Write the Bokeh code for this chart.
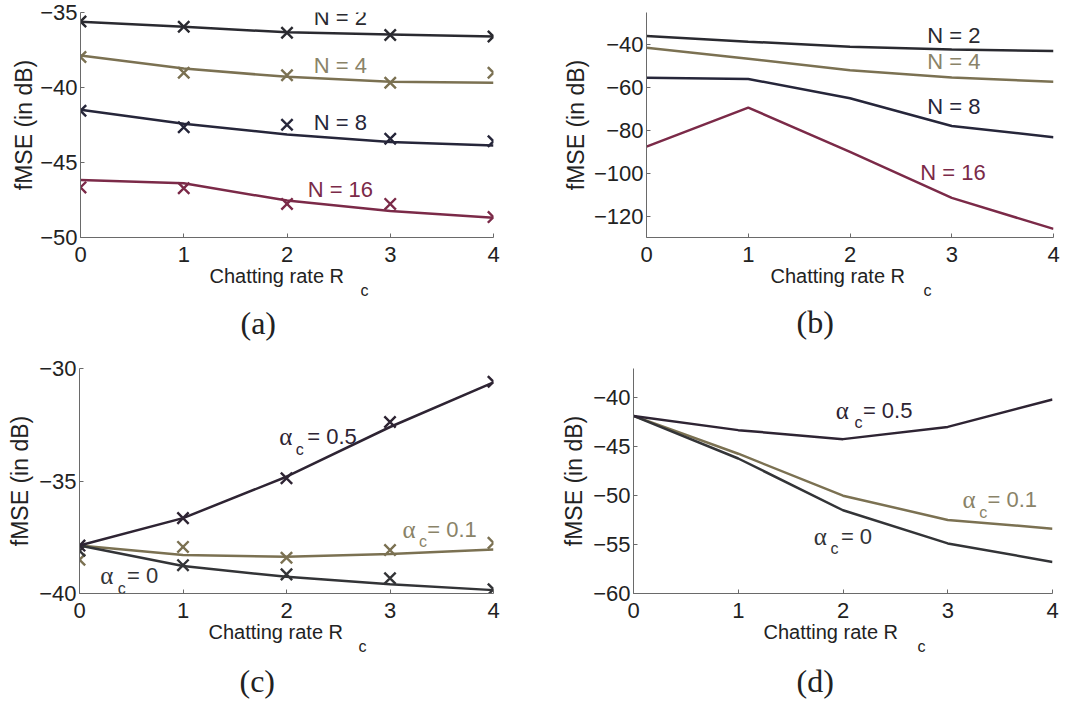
import math
from bokeh.plotting import figure
from bokeh.models import Range1d, FixedTicker, Label, Title
from bokeh.layouts import column, row
from bokeh.embed import file_html
from bokeh.resources import INLINE

# ---------------- data ----------------
rates = [0, 1, 2, 3, 4]

# (a) fMSE vs chatting rate, analytic curve (line) and simulation (x markers)
a_n2_line = [-35.62, -35.95, -36.32, -36.47, -36.60]
a_n2_mark = [-35.60, -35.95, -36.35, -36.50, -36.60]
a_n4_line = [-37.86, -38.74, -39.29, -39.62, -39.68]
a_n4_mark = [-37.97, -39.02, -39.18, -39.68, -39.02]
a_n8_line = [-41.49, -42.41, -43.14, -43.64, -43.86]
a_n8_mark = [-41.55, -42.65, -42.48, -43.42, -43.58]
a_n16_line = [-46.17, -46.39, -47.54, -48.24, -48.68]
a_n16_mark = [-46.66, -46.72, -47.76, -47.76, -48.64]

# (b)
b_n2 = [-36.0, -38.6, -41.0, -42.3, -43.0]
b_n4 = [-41.5, -46.6, -52.0, -55.3, -57.3]
b_n8 = [-55.5, -56.0, -65.0, -78.0, -83.2]
b_n16 = [-87.6, -69.4, -90.0, -111.5, -126.0]

# (c)
c_a05_line = [-37.87, -36.65, -34.81, -32.60, -30.62]
c_a05_mark = [-37.87, -36.65, -34.88, -32.38, -30.59]
c_a01_line = [-37.87, -38.29, -38.37, -38.24, -38.04]
c_a01_mark = [-38.50, -37.93, -38.41, -38.07, -37.75]
c_a0_line = [-37.87, -38.78, -39.26, -39.59, -39.85]
c_a0_mark = [-38.10, -38.74, -39.15, -39.32, -39.81]

# (d)
d_a05 = [-41.85, -43.30, -44.22, -42.97, -40.17]
d_a01 = [-41.85, -45.71, -50.00, -52.48, -53.37]
d_a0 = [-41.85, -46.20, -51.49, -54.88, -56.77]

x_ticks = [0, 1, 2, 3, 4]
a_yticks = [-50, -45, -40, -35]
b_yticks = [-120, -100, -80, -60, -40]
c_yticks = [-40, -35, -30]
d_yticks = [-60, -55, -50, -45, -40]

# ---------------- styles ----------------
C_DARK = "#2a2a30"
C_OLIVE = "#7b7152"
C_OLIVE_TXT = "#8a8368"
C_NAVY = "#26263a"
C_MAROON = "#7b2a48"
C_PURPLE = "#2e2433"
C_GRAY = "#333437"
SANS = "Liberation Sans"
SERIF = "Liberation Serif"
MINUS = "\u2212"


def fmt(v):
    return (MINUS + str(abs(v))) if v < 0 else str(v)


def make_panel(w, h, left, right, top, bottom, yr, yticks, ylab_standoff):
    p = figure(width=w, height=h, output_backend="svg", toolbar_location=None,
               x_range=Range1d(0, 4), y_range=Range1d(*yr),
               min_border_left=left, min_border_right=w - right,
               min_border_top=top, min_border_bottom=h - bottom)
    p.outline_line_color = None
    p.grid.visible = False
    p.background_fill_color = "white"
    p.border_fill_color = "white"
    for ax, ticks in ((p.xaxis, x_ticks), (p.yaxis, yticks)):
        ax.ticker = FixedTicker(ticks=ticks)
        ax.major_label_overrides = {t: fmt(t) for t in ticks}
        ax.axis_line_color = "#6a6a6a"
        ax.axis_line_width = 1
        ax.major_tick_line_color = "#6a6a6a"
        ax.major_tick_in = 4
        ax.major_tick_out = 0
        ax.minor_tick_line_color = None
        ax.major_label_text_font = SANS
        ax.major_label_text_font_size = "22px"
        ax.major_label_text_color = "#222222"
    p.xaxis.major_label_standoff = 9
    p.yaxis.major_label_standoff = 3
    p.yaxis.axis_label = "fMSE (in dB)"
    p.yaxis.axis_label_text_font = SANS
    p.yaxis.axis_label_text_font_size = "23px"
    p.yaxis.axis_label_text_font_style = "normal"
    p.yaxis.axis_label_text_color = "#222222"
    p.yaxis.axis_label_standoff = ylab_standoff
    p.tags = [left]
    return p


def below_text(p, s, x_px, size, font=SANS, standoff=0):
    left = p.tags[0]
    p.add_layout(Title(text=s, align="left", offset=x_px - left,
                       text_font=font, text_font_size=f"{size}px",
                       text_font_style="normal", text_color="#222222",
                       standoff=standoff), "below")


def frame_texts(p, xlab_x, sub_x, tag_x, tag, tag_standoff):
    below_text(p, "Chatting rate R", xlab_x, 20, standoff=-4)
    below_text(p, "c", sub_x, 16, standoff=-9)
    below_text(p, tag, tag_x, 32, font=SERIF, standoff=tag_standoff)


def text(p, x, y, s, color="#222222", size=22, font=SANS, align="left"):
    p.add_layout(Label(x=x, y=y, text=s, text_color=color,
                       text_font_size=f"{size}px", text_font=font,
                       text_align=align, text_baseline="middle"))


def alpha_label(p, ax, ay, cx, cy, ex, val, color):
    text(p, ax, ay, "\u03b1", color=color, size=25, font=SERIF)
    text(p, cx, cy, "c", color=color, size=16)
    text(p, ex, ay, "= " + val, color=color, size=22)


def curve(p, ys, color, marks=None):
    p.line(rates, ys, line_color=color, line_width=2.5)
    if marks is not None:
        p.scatter(rates, marks, marker="x", size=16, line_color=color,
                  line_width=2.4)


# ---------------- (a) ----------------
pa = make_panel(540, 356, 80, 493, 12, 237, (-50, -35), a_yticks, 0)
curve(pa, a_n2_line, C_DARK, a_n2_mark)
curve(pa, a_n4_line, C_OLIVE, a_n4_mark)
curve(pa, a_n8_line, C_NAVY, a_n8_mark)
curve(pa, a_n16_line, C_MAROON, a_n16_mark)
text(pa, 2.26, -35.3, "N = 2", color=C_DARK)
text(pa, 2.26, -38.5, "N = 4", color=C_OLIVE_TXT)
text(pa, 2.26, -42.3, "N = 8", color=C_NAVY)
text(pa, 2.20, -46.8, "N = 16", color=C_MAROON)
frame_texts(pa, 209, 360, 240, "(a)", 16)

# ---------------- (b) ----------------
pb = make_panel(544, 356, 106, 513, 7, 239, (-130, -25), b_yticks, 2)
curve(pb, b_n2, C_DARK)
curve(pb, b_n4, C_OLIVE)
curve(pb, b_n8, C_NAVY)
curve(pb, b_n16, C_MAROON)
text(pb, 2.76, -35.5, "N = 2", color=C_DARK)
text(pb, 2.76, -48.0, "N = 4", color=C_OLIVE_TXT)
text(pb, 2.76, -68.8, "N = 8", color=C_NAVY)
text(pb, 2.69, -99.5, "N = 16", color=C_MAROON)
frame_texts(pb, 230, 383, 256, "(b)", 14)

# ---------------- (c) ----------------
pc = make_panel(540, 353, 79, 493, 12, 237, (-40, -30), c_yticks, 3)
curve(pc, c_a01_line, C_OLIVE, c_a01_mark)
curve(pc, c_a0_line, C_GRAY, c_a0_mark)
curve(pc, c_a05_line, C_PURPLE, c_a05_mark)
alpha_label(pc, 1.93, -33.04, 2.09, -33.61, 2.20, "0.5", C_PURPLE)
alpha_label(pc, 3.12, -37.14, 3.28, -37.67, 3.36, "0.1", C_OLIVE_TXT)
alpha_label(pc, 0.20, -39.20, 0.37, -39.78, 0.46, "0", C_GRAY)
frame_texts(pc, 208, 358, 239, "(c)", 21)

# ---------------- (d) ----------------
pd = make_panel(544, 353, 93, 512, 6, 238, (-60, -37), d_yticks, 3)
curve(pd, d_a01, C_OLIVE)
curve(pd, d_a0, C_GRAY)
curve(pd, d_a05, C_PURPLE)
alpha_label(pd, 1.93, -41.26, 2.11, -42.55, 2.19, "0.5", C_PURPLE)
alpha_label(pd, 3.14, -50.38, 3.30, -51.67, 3.38, "0.1", C_OLIVE_TXT)
alpha_label(pd, 1.72, -54.15, 1.88, -55.43, 1.98, "0", C_GRAY)
frame_texts(pd, 223, 377, 256, "(d)", 20)

layout = column(row(pa, pb), row(pc, pd))

with open("out.html", "w") as f:
    f.write(file_html(layout, INLINE))
